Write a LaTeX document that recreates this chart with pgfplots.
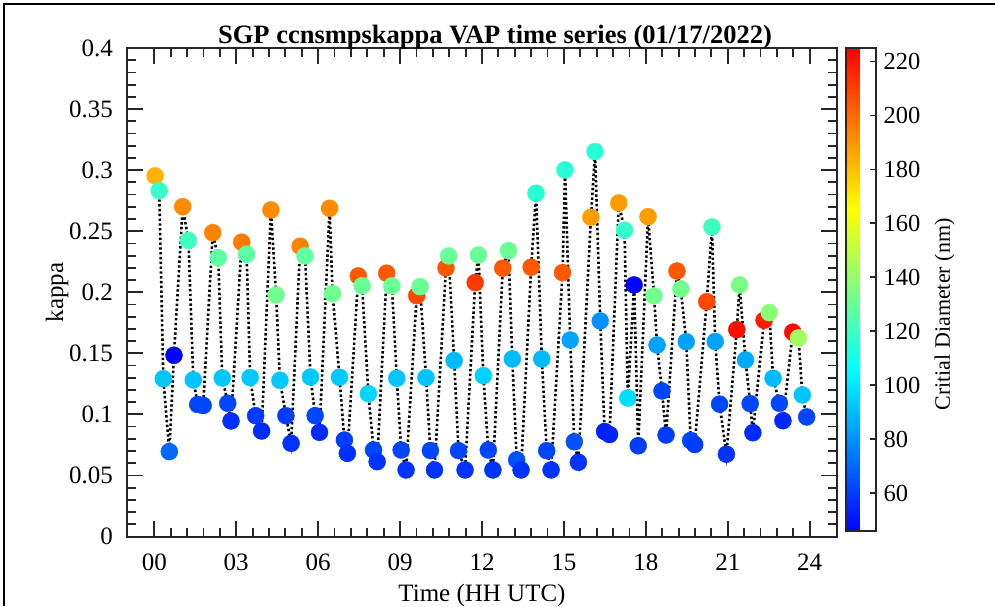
\documentclass[border=0pt]{standalone}
\usepackage{fontspec}
\setmainfont{Liberation Serif}
\usepackage{pgfplots}
\usepackage{pgfplotstable}
\pgfplotsset{compat=1.18}
\definecolor{axc}{RGB}{38,38,38}
\pgfplotstableread{
t k d
0.03 0.2953 183
0.18 0.2832 118
0.33 0.1292 92
0.55 0.0695 70
0.72 0.1484 47
1.04 0.2701 192
1.25 0.2424 120
1.43 0.1282 92
1.59 0.1081 62
1.79 0.1073 62
2.14 0.2488 194
2.34 0.2283 127
2.49 0.1298 93
2.69 0.1091 62
2.81 0.0946 57
3.20 0.2410 196
3.38 0.2311 127
3.51 0.1302 93
3.71 0.0989 60
3.93 0.0864 56
4.27 0.2674 192
4.46 0.1978 132
4.60 0.1279 93
4.82 0.0989 60
5.01 0.0763 58
5.34 0.2377 194
5.52 0.2297 128
5.72 0.1306 93
5.89 0.0989 62
6.05 0.0853 56
6.42 0.2688 192
6.53 0.1989 132
6.78 0.1304 93
6.96 0.0790 60
7.07 0.0681 57
7.47 0.2134 204
7.61 0.2053 130
7.84 0.1170 96
8.03 0.0708 62
8.16 0.0613 58
8.51 0.2156 204
8.70 0.2052 130
8.88 0.1296 92
9.04 0.0708 62
9.22 0.0545 58
9.61 0.1972 208
9.73 0.2046 130
9.95 0.1301 92
10.11 0.0704 62
10.26 0.0545 58
10.68 0.2199 204
10.78 0.2297 130
10.98 0.1441 90
11.14 0.0703 62
11.38 0.0545 58
11.75 0.2079 211
11.87 0.2305 130
12.05 0.1317 95
12.23 0.0708 62
12.40 0.0545 58
12.76 0.2197 204
12.97 0.2341 130
13.11 0.1454 90
13.27 0.0627 65
13.43 0.0545 58
13.80 0.2205 204
13.98 0.2811 115
14.19 0.1454 90
14.37 0.0703 62
14.53 0.0545 58
14.95 0.2161 204
15.04 0.3002 115
15.23 0.1609 84
15.38 0.0776 65
15.53 0.0608 58
15.99 0.2614 188
16.14 0.3152 115
16.33 0.1765 80
16.49 0.0860 54
16.67 0.0835 54
17.01 0.2731 188
17.22 0.2508 118
17.34 0.1134 98
17.57 0.2060 47
17.72 0.0743 60
18.08 0.2619 188
18.30 0.1970 132
18.41 0.1568 84
18.59 0.1192 62
18.74 0.0831 60
19.14 0.2174 204
19.28 0.2027 132
19.48 0.1595 84
19.64 0.0786 62
19.79 0.0753 60
20.23 0.1923 208
20.42 0.2535 120
20.54 0.1597 84
20.70 0.1084 62
20.95 0.0674 58
21.33 0.1694 222
21.43 0.2060 134
21.65 0.1446 86
21.82 0.1088 62
21.92 0.0850 56
22.33 0.1771 218
22.52 0.1833 138
22.66 0.1296 90
22.89 0.1091 62
23.02 0.0948 55
23.38 0.1673 222
23.59 0.1626 143
23.73 0.1159 92
23.89 0.0979 62
}\kdata
\begin{document}
\begin{tikzpicture}
\path[use as bounding box] (0,0) rectangle (995pt,606pt);
\draw[line width=2pt, black] (4pt,0pt) -- (4pt,602pt) -- (995pt,602pt);
\begin{axis}[
  at={(127pt,69.5pt)}, anchor=south west,
  scale only axis, width=710pt, height=488.5pt,
  xmin=-1, xmax=25, ymin=0, ymax=0.4,
  font=\fontsize{25}{29}\selectfont,
  /pgf/number format/assume math mode=true,
  axis line style={line width=2pt, axc},
  every tick/.style={line width=1.8pt, axc},
  tick align=inside,
  major tick length=16pt, minor tick length=9pt,
  xtick={0,3,...,24},
  xticklabels={00,03,06,09,12,15,18,21,24},
  minor x tick num=4,
  ytick={0,0.05,...,0.41},
  yticklabels={0,0.05,0.1,0.15,0.2,0.25,0.3,0.35,0.4},
  minor y tick num=4,
  xticklabel style={anchor=base, inner sep=0pt, yshift=-33.5pt},
  yticklabel style={anchor=east, inner sep=0pt, xshift=-14pt},
  xlabel={Time (HH UTC)},
  xlabel style={at={(axis description cs:0.5,0)}, anchor=base, inner sep=0pt, yshift=-64.5pt},
  ylabel={kappa},
  ylabel style={at={(axis description cs:0,0.5)}, anchor=center, inner sep=0pt, yshift=70pt},
  title={\fontsize{26.5}{30}\selectfont\bfseries SGP ccnsmpskappa VAP time series (01/17/2022)},
  title style={at={(axis description cs:0.5,1)}, anchor=base, inner sep=0pt, yshift=-1pt, xshift=13pt},
  colormap={mjet}{rgb255=(0,0,255) rgb255=(0,255,255) rgb255=(255,255,0) rgb255=(255,0,0)},
  point meta min=46, point meta max=225,
  colorbar,
  colorbar style={
    at={(parent axis.south east)}, anchor=south west,
    xshift=0pt, yshift=5.5pt,
    scale only axis, width=30pt, height=483pt,
    axis line style={line width=2pt, axc},
    ytick={60,80,...,220},
    ytick pos=right,
    tick align=inside,
    major tick length=6pt,
    every tick/.style={line width=1.8pt, axc},
    yticklabel style={anchor=west, inner sep=0pt, xshift=8pt, font=\fontsize{24.5}{28}\selectfont},
    ylabel={Critial Diameter (nm)},
    ylabel style={at={(axis description cs:1,0.5)}, anchor=center, inner sep=0pt, yshift=-69pt, xshift=-25pt, font=\fontsize{22}{26}\selectfont},
    /pgf/number format/assume math mode=true,
  },
]
\addplot[black, line width=2.6pt, dash pattern=on 2.4pt off 2.4pt, no marks] table[x=t, y=k] {\kdata};
\addplot[scatter, only marks, mark=*, mark size=8.5pt, scatter src=explicit,
  scatter/use mapped color={draw=mapped color, fill=mapped color}]
  table[x=t, y=k, meta=d] {\kdata};
\end{axis}
\end{tikzpicture}
\end{document}
